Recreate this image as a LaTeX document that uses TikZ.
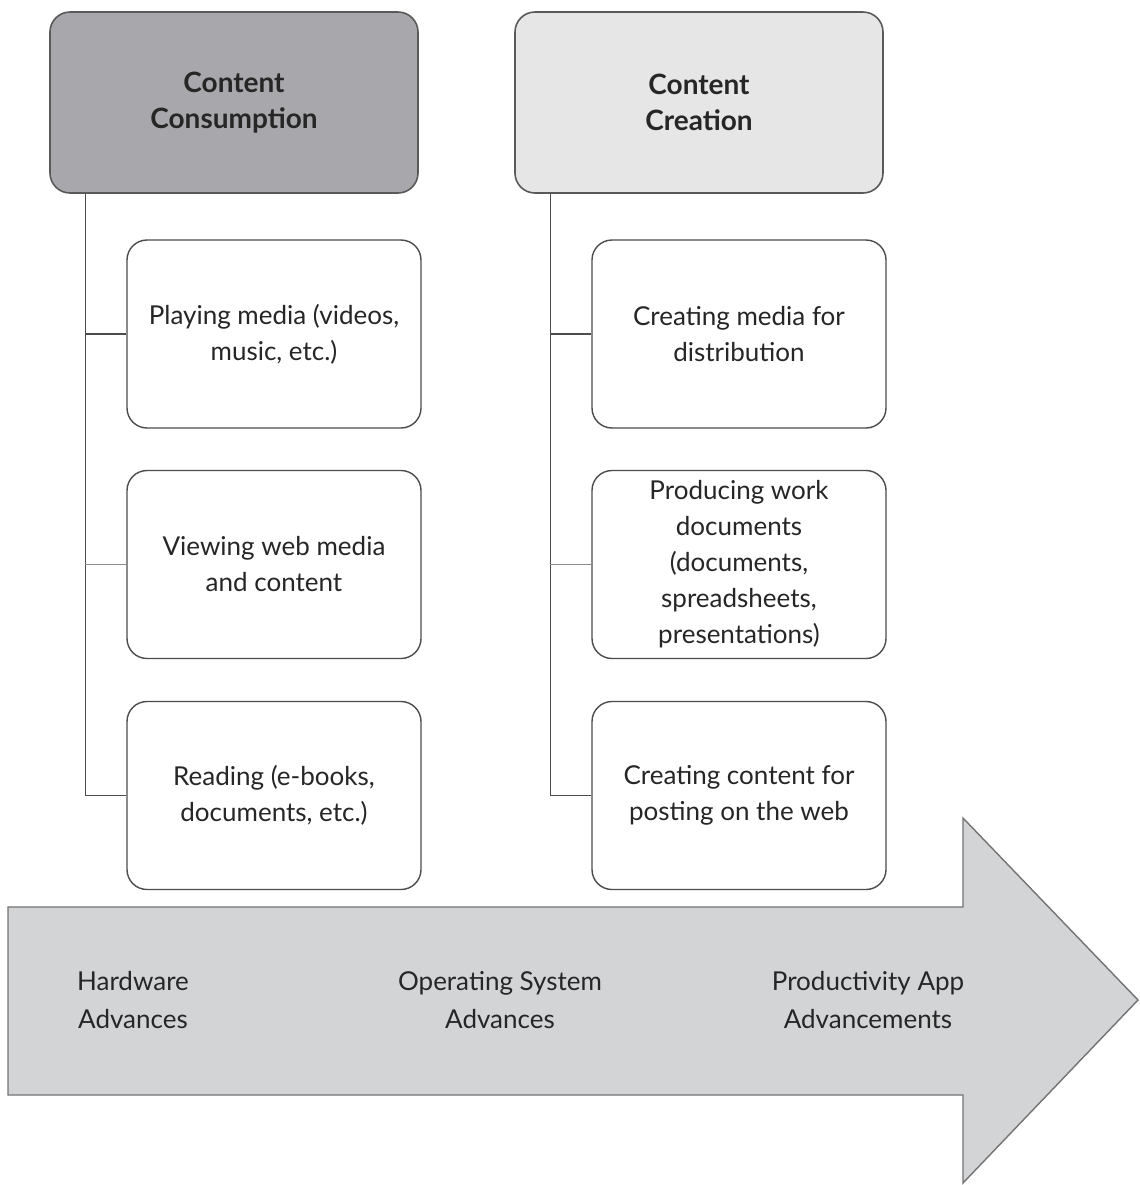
\documentclass[tikz,border=0pt]{standalone}
\usepackage{fontspec}
\setmainfont{Lato}
\definecolor{darkhead}{HTML}{A8A8AC}
\definecolor{lighthead}{HTML}{E6E6E6}
\definecolor{arrowgray}{HTML}{D3D4D6}
\begin{document}
\begin{tikzpicture}[x=0.5pt,y=-0.5pt,
  head/.style={rectangle,rounded corners=10pt,draw=black!65,line width=0.8pt,minimum width=184pt,minimum height=90.5pt,align=center,font=\bfseries\fontsize{14}{18}\selectfont,text=black!85},
  item/.style={rectangle,rounded corners=10pt,draw=black!70,line width=0.7pt,fill=white,minimum width=147pt,minimum height=94pt,align=center,font=\fontsize{13}{18}\selectfont,text=black!85},
  link/.style={draw=black!70,line width=0.7pt},
  stage/.style={align=center,font=\fontsize{13}{19}\selectfont,text=black!85}]
\useasboundingbox (0,0) rectangle (1140,1185);

% timeline arrow
\draw[draw=black!55,line width=0.7pt,fill=arrowgray] (8,907) -- (963,907) -- (963,818) -- (1138,1000) -- (963,1183) -- (963,1095) -- (8,1095) -- cycle;
\node[stage] (hw) at (133,1000) {Hardware\\Advances};
\node[stage] (os) at (500,1000) {Operating System\\Advances};
\node[stage] (app) at (868,1000) {Productivity App\\Advancements};

% left column
\node[head,fill=darkhead] (cons) at (234,102.5) {Content\\Consumption};
\node[item] (play) at (274,334) {Playing media (videos,\\music, etc.)};
\node[item] (view) at (274,564.5) {Viewing web media\\and content};
\node[item] (read) at (274,795.5) {Reading (e-books,\\documents, etc.)};
\coordinate (ltrunk) at ([xshift=18pt]cons.south west);
\draw[link] (ltrunk) |- (read.west);
\draw[link] (play.west) -- (play.west -| ltrunk);
\draw[link,draw=black!45] (view.west) -- (view.west -| ltrunk);

% right column
\node[head,fill=lighthead] (crea) at (699,102.5) {Content\\Creation};
\node[item] (media) at (739,334) {Creating media for\\distribution};
\node[item] (work) at (739,564.5) {Producing work\\documents\\(documents,\\spreadsheets,\\presentations)};
\node[item] (post) at (739,795.5) {Creating content for\\posting on the web};
\coordinate (rtrunk) at ([xshift=18pt]crea.south west);
\draw[link] (rtrunk) |- (post.west);
\draw[link] (media.west) -- (media.west -| rtrunk);
\draw[link,draw=black!45] (work.west) -- (work.west -| rtrunk);
\end{tikzpicture}
\end{document}
